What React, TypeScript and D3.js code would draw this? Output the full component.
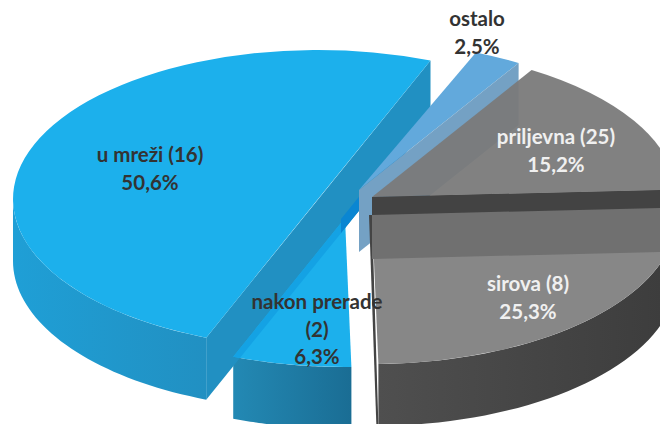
import React from "react";
import * as d3 from "d3";

const names = ["u mreži (16)", "ostalo", "priljevna (25)", "sirova (8)", "nakon prerade"];
const shares = [50.6, 2.5, 15.2, 25.3, 6.3];
const shareLabels = ["50,6%", "2,5%", "15,2%", "25,3%", "6,3%"];

const W = 660, H = 424;
const RX = 305, RY = 149, DEPTH = 62;
const START = (-158.5 * Math.PI) / 180;
// exploded slice centres
const centres: [number, number][] = [[318, 199], [359, 190], [372, 197], [372, 215], [345, 218]];
// small angular corrections (degrees) for the chart's 3D projection
const skewStart = [0, -1.3, -1.3, 0, 0];
const skewEnd = [-2.2, -1.3, -0.5, 0, 0];

const rad = Math.PI / 180;
const slices = d3
  .pie<number>()
  .sort(null)
  .startAngle(START)
  .endAngle(START + 2 * Math.PI)(shares)
  .map((p, i) => ({
    ...p,
    startAngle: p.startAngle + skewStart[i] * rad,
    endAngle: p.endAngle + skewEnd[i] * rad,
  }));
const arcGen = d3.arc<any>().innerRadius(0).outerRadius(RX);
const ratio = RY / RX;
const lineGen = d3.line<[number, number]>();

const pt = (i: number, a: number, dy = 0): [number, number] => [
  centres[i][0] + RX * Math.sin(a),
  centres[i][1] - RY * Math.cos(a) + dy,
];
const arcPts = (i: number, a0: number, a1: number, dy = 0) =>
  d3.range(41).map((k) => pt(i, a0 + ((a1 - a0) * k) / 40, dy));

const topFace = (i: number) => ({
  d: arcGen(slices[i]) as string,
  transform: `translate(${centres[i][0]},${centres[i][1]}) scale(1,${ratio})`,
});
const poly = (p: [number, number][]) => (lineGen(p) as string) + "Z";
const outerSide = (i: number, a0: number, a1: number) =>
  poly([...arcPts(i, a0, a1), ...arcPts(i, a1, a0, DEPTH)]);

const [mreza, ostalo, priljevna, sirova, nakon] = [0, 1, 2, 3, 4];
const s = slices;

// straight cut of the large slice
const bigA = pt(mreza, s[mreza].endAngle);
const bigB = pt(mreza, s[mreza].startAngle);
const bigBand = poly([bigA, [bigA[0], bigA[1] + DEPTH], [bigB[0], bigB[1] + DEPTH], bigB]);
const slope = (bigB[1] - bigA[1]) / (bigB[0] - bigA[0]);
const stripEndX = centres[nakon][0] - 4;
const stripLow = (x: number): [number, number] => [x, bigA[1] + DEPTH + (x - bigA[0]) * slope];
const stripHigh = (x: number): [number, number] => [x, bigA[1] + DEPTH - 14 + (x - bigA[0]) * slope];
const strip = poly([stripHigh(bigA[0]), stripLow(bigA[0]), stripLow(stripEndX), stripHigh(stripEndX)]);

// ostalo cut face
const oCentre = centres[ostalo];
const oEnd = pt(ostalo, s[ostalo].endAngle);
const oFace = poly([oEnd, [oEnd[0], oEnd[1] + DEPTH], [oCentre[0], oCentre[1] + DEPTH], oCentre]);

// priljevna cut face, with the dark part above the sirova top
const pC = centres[priljevna];
const pEnd = pt(priljevna, s[priljevna].endAngle);
const pFace = poly([pC, pEnd, [pEnd[0], pEnd[1] + DEPTH], [pC[0], pC[1] + DEPTH]]);
const gapY = centres[sirova][1] - pC[1];
const pDark = poly([pC, pEnd, [pEnd[0], pEnd[1] + gapY], [pC[0], pC[1] + gapY]]);

// thin dark left edge of sirova
const sirC = centres[sirova];
const sirEnd = pt(sirova, s[sirova].endAngle);
const sirEdge = poly([
  [sirC[0] - 3, sirC[1]],
  [sirC[0], sirC[1]],
  [sirEnd[0], sirEnd[1] + DEPTH],
  [sirEnd[0] - 2, sirEnd[1] + DEPTH],
]);

const labels: { i: number; x: number; y: number; color: string; lines: string[] }[] = [
  { i: mreza, x: 150, y: 162, color: "#333333", lines: [names[0], shareLabels[0]] },
  { i: ostalo, x: 477, y: 26, color: "#333333", lines: [names[1], shareLabels[1]] },
  { i: priljevna, x: 556, y: 144, color: "#f0f0f0", lines: [names[2], shareLabels[2]] },
  { i: sirova, x: 528, y: 291, color: "#f0f0f0", lines: [names[3], shareLabels[3]] },
  { i: nakon, x: 317, y: 309, color: "#333333", lines: [names[4], "(2)", shareLabels[4]] },
];

export default function App() {
  return (
    <svg width={W} height={H} viewBox={`0 0 ${W} ${H}`} style={{ position: "absolute", left: 0, top: 0 }}>
      <defs>
        <linearGradient id="gBig" x1="0" x2="1" y1="0" y2="0">
          <stop offset="0" stopColor="#1f9fd6" />
          <stop offset="1" stopColor="#2190c2" />
        </linearGradient>
        <linearGradient id="gNakon" x1="0" x2="1" y1="0" y2="0">
          <stop offset="0" stopColor="#2389b4" />
          <stop offset="1" stopColor="#1a6d94" />
        </linearGradient>
        <linearGradient id="gSirova" x1="0" x2="1" y1="0" y2="0">
          <stop offset="0" stopColor="#4f4f4f" />
          <stop offset="1" stopColor="#3c3c3c" />
        </linearGradient>
        <clipPath id="nakonClip">
          <path {...topFace(nakon)} />
        </clipPath>
      </defs>

      {/* large slice side */}
      <path d={outerSide(mreza, s[mreza].startAngle, -Math.PI / 2)} fill="url(#gBig)" />

      {/* after-processing slice */}
      <path d={outerSide(nakon, s[nakon].startAngle, s[nakon].endAngle)} fill="url(#gNakon)" />
      <path d={bigBand} fill="#2190c2" />
      <path {...topFace(nakon)} fill="#1cb0ec" />
      <g clipPath="url(#nakonClip)">
        <path d={bigBand} fill="#14a2e4" />
      </g>
      <path {...topFace(mreza)} fill="#1cb0ec" />
      <path d={strip} fill="#0a86d2" />

      {/* ostalo */}
      <path {...topFace(ostalo)} fill="#62a9dc" />
      <path d={oFace} fill="#74a1c4" />

      {/* sirova */}
      <path d={outerSide(sirova, s[sirova].startAngle, s[sirova].endAngle)} fill="url(#gSirova)" />
      <path d={sirEdge} fill="#444444" />
      <path {...topFace(sirova)} fill="#878787" />

      {/* priljevna */}
      <path {...topFace(priljevna)} fill="#7a7a7a" fillOpacity={0.95} />
      <path d={pFace} fill="#707070" />
      <path d={pDark} fill="#434343" />

      {/* labels */}
      <g fontFamily="Lato, 'Open Sans', sans-serif" fontWeight={700} fontSize={20.5} textAnchor="middle">
        {labels.map((l) =>
          l.lines.map((t, k) => (
            <text key={l.i + "-" + k} x={l.x} y={l.y + k * 27.5} fill={l.color}>
              {t}
            </text>
          ))
        )}
      </g>
    </svg>
  );
}
